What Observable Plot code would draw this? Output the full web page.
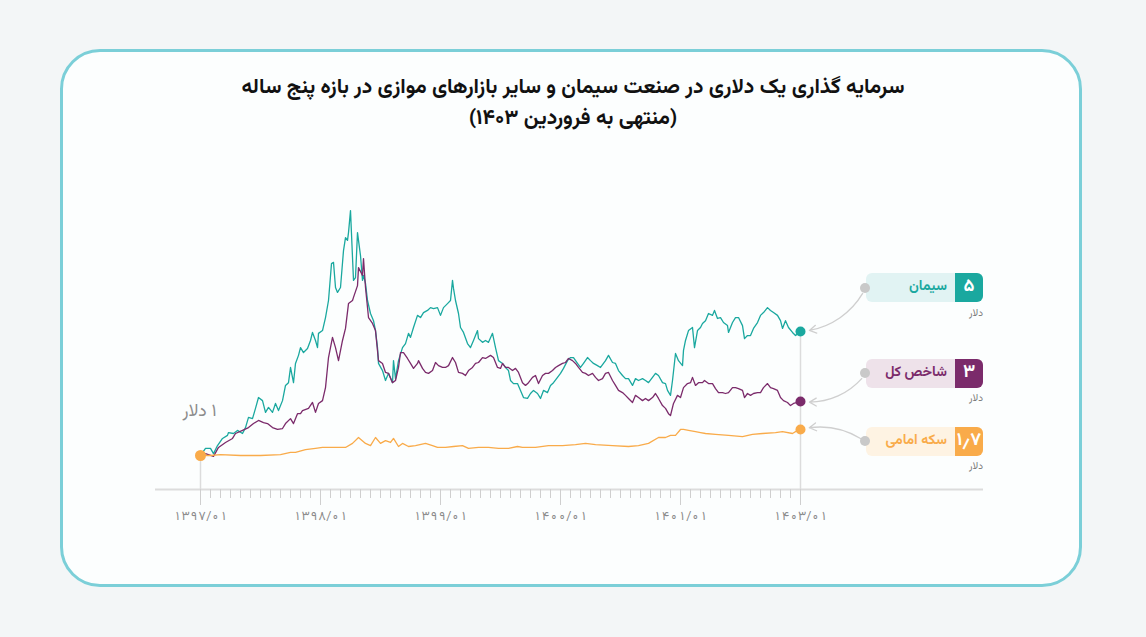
<!DOCTYPE html>
<html><head><meta charset="utf-8">
<script src="https://cdn.jsdelivr.net/npm/d3@7"></script>
<script src="https://cdn.jsdelivr.net/npm/@observablehq/plot@0.6"></script>
<style>
body{margin:0;background:#f3f6f7;width:1146px;height:637px;overflow:hidden;font-family:"Vazirmatn","DejaVu Sans",sans-serif;position:relative}
#card{position:absolute;left:60px;top:49px;width:1016px;height:532px;border:3px solid #7bcfd8;border-radius:40px;background:#fcfefe}
#title{position:absolute;left:0;top:72px;width:1146px;text-align:center;font-weight:bold;font-size:21px;line-height:31px;color:#111;direction:rtl}
#chart{position:absolute;left:0;top:0}
.box{position:absolute;width:117px;height:29px;border-radius:6px;overflow:hidden;direction:rtl}
.num{position:absolute;right:0;top:0;width:28px;height:29px;color:#fff;font-weight:bold;font-size:18px;line-height:29px;text-align:center}
.name{position:absolute;right:36px;top:0;height:29px;line-height:29px;font-size:14px;font-weight:bold;white-space:nowrap}
.unit{position:absolute;font-size:10px;color:#777;direction:rtl;text-align:right;width:40px}
.knob{position:absolute;width:10px;height:10px;border-radius:5px;background:#c9c9c9}
</style></head>
<body>
<div id="card"></div>
<div id="title">سرمایه گذاری یک دلاری در صنعت سیمان و سایر بازارهای موازی در بازه پنج ساله<br>(منتهی به فروردین ۱۴۰۳)</div>
<div id="chart"></div>
<script>
// ---- data (x = months since start, y = value of 1 dollar invested) ----
const seriesNames = ["سیمان", "شاخص کل", "سکه امامی"];
const seriesEndLabels = ["۵", "۳", "۱٫۷"];
const unitLabel = "دلار";
const startLabel = "\u202B۱ دلار\u202C";
const tickMonths = [0, 12, 24, 36, 48, 60];
const tickLabels = ["۱۳۹۷/۰۱", "۱۳۹۸/۰۱", "۱۳۹۹/۰۱", "۱۴۰۰/۰۱", "۱۴۰۱/۰۱", "۱۴۰۳/۰۱"];

const cementT = [0,0.5,1,1.3,1.7,2.2,2.7,2.8,3.3,3.7,4.2,4.5,4.8,5.2,5.5,5.8,6.2,6.5,6.8,7.2,7.5,7.8,8.2,8.5,8.8,9,9.3,9.5,9.8,10,10.3,10.7,11,11.2,11.5,11.7,11.8,12.2,12.5,12.8,13.1,13.3,13.5,13.7,14,14.3,14.5,14.7,14.8,15,15.2,15.3,15.5,15.7,15.8,16,16.2,16.3,16.5,16.7,17,17.3,17.5,17.7,17.8,18.2,18.5,18.8,19.2,19.3,19.5,19.8,20.2,20.5,20.8,21,21.3,21.7,22,22.3,22.7,23,23.3,23.7,24,24.3,24.7,25,25.2,25.3,25.5,25.8,26,26.3,26.7,27,27.3,27.7,27.8,28.2,28.5,28.8,29.2,29.5,29.8,30.2,30.5,30.8,31,31.3,31.7,32,32.3,32.7,33,33.3,33.7,34,34.3,34.7,35,35.3,35.7,36,36.3,36.7,37,37.3,37.7,38,38.3,38.7,39,39.3,39.7,40,40.5,40.8,41.2,41.5,41.8,42.2,42.5,42.8,43.2,43.5,43.8,44.2,44.5,44.8,45.2,45.5,45.8,46.2,46.5,46.7,47,47.2,47.5,47.8,48.2,48.3,48.5,48.8,49.2,49.4,49.7,50,50.2,50.5,50.8,51.2,51.4,51.7,52,52.3,52.7,52.8,53.2,53.5,53.8,54.2,54.4,54.7,55,55.3,55.7,56,56.3,56.7,57,57.3,57.7,58,58.2,58.5,58.8,59.2,59.5,59.8,60];
const cementV = [1.00,1.23,1.23,1.06,1.32,1.55,1.65,1.74,1.71,1.81,1.71,1.90,2.23,2.19,2.52,2.87,2.77,2.39,2.55,2.39,2.68,2.45,2.77,3.26,3.35,3.84,3.35,3.97,4.23,4.48,4.32,4.45,4.71,4.97,4.71,4.48,4.94,5.03,5.45,6.00,7.19,7.23,6.42,6.26,6.42,7.61,8.03,7.94,8.19,8.90,7.39,6.65,6.74,8.19,7.94,7.45,6.65,6.81,6.55,6.00,5.58,5.35,5.03,4.48,3.97,3.74,3.42,3.65,3.35,4.06,3.48,4.06,4.48,4.61,4.94,4.81,5.13,5.52,5.45,5.61,5.68,5.77,5.74,5.77,5.52,5.77,5.90,6.00,6.65,6.39,6.00,5.58,5.13,4.97,4.61,4.48,4.71,5.03,4.77,4.65,4.71,4.65,4.94,4.48,4.06,3.97,3.84,3.74,3.42,3.32,3.32,3.10,2.87,2.84,3.00,3.10,3.00,2.84,3.10,3.03,3.26,3.35,3.52,3.65,3.81,4.06,4.16,4.16,3.97,3.84,3.97,4.16,4.06,3.97,3.90,3.84,4.06,4.23,4.00,3.97,3.74,3.58,3.48,3.48,3.26,3.48,3.42,3.48,3.42,3.35,3.52,3.65,3.58,3.35,3.32,3.10,2.94,3.42,4.29,4.06,3.90,4.39,4.71,5.03,5.13,4.48,5.03,5.13,5.26,5.35,5.58,5.52,5.68,5.42,5.45,5.29,5.19,4.97,5.29,5.45,5.45,5.19,4.77,4.87,4.87,5.10,5.29,5.52,5.61,5.77,5.68,5.61,5.52,5.35,5.10,5.35,5.13,4.97,4.87,4.94,5.00];

const indexT = [0,0.5,1.3,1.8,2.5,3.2,3.5,4.2,4.8,5.3,5.8,6.3,6.7,7.2,7.7,8.2,8.5,9,9.3,9.7,10,10.2,10.8,11.2,11.5,11.8,12.2,12.5,12.8,13.2,13.5,13.8,14.2,14.5,14.8,15.2,15.3,15.7,15.8,16.2,16.3,16.5,16.8,17.2,17.5,17.8,18.2,18.5,18.8,19.2,19.5,19.8,20,20.3,20.7,21,21.3,21.7,21.8,22.2,22.5,22.8,23.2,23.5,23.8,24.2,24.5,24.8,25.2,25.5,25.8,26.2,26.5,26.8,27.2,27.5,27.8,28.2,28.5,29,29.3,29.7,30,30.2,30.5,30.8,31.2,31.5,31.8,32.2,32.5,32.8,33.2,33.5,33.8,34.2,34.5,34.8,35.2,35.5,35.8,36.2,36.5,36.8,37.2,37.5,37.8,38.2,38.5,38.8,39.2,39.5,39.8,40.2,40.5,40.8,41.2,41.5,41.8,42.2,42.5,42.8,43.2,43.5,43.8,44.2,44.5,44.8,45.2,45.5,45.8,46.2,46.5,46.8,47,47.3,47.7,48,48.3,48.7,49,49.2,49.5,49.8,50.2,50.4,50.8,51.2,51.5,51.8,52.2,52.5,52.8,53.2,53.5,53.8,54.2,54.4,54.7,55,55.3,55.7,56,56.3,56.7,57,57.3,57.7,58,58.3,58.7,59,59.3,59.7,60];
const indexV = [1.00,1.06,0.97,1.26,1.42,1.55,1.71,1.81,1.90,2.03,2.13,2.06,2.03,1.90,1.84,1.87,2.03,2.19,2.03,2.35,2.35,2.45,2.52,2.71,2.39,2.68,2.77,3.19,4.16,4.81,4.48,4.06,4.71,5.10,5.90,6.00,6.10,6.48,7.06,6.81,7.35,6.42,5.45,5.26,5.03,4.06,3.97,3.68,3.65,3.35,3.42,3.84,4.32,4.32,4.13,3.97,3.81,3.97,4.06,3.81,3.68,3.65,3.74,4.00,3.90,3.84,3.84,3.90,4.16,4.00,3.68,3.65,3.58,3.74,3.84,3.97,4.00,4.16,4.13,4.23,4.16,3.84,3.81,3.97,3.84,3.84,3.74,3.81,3.68,3.35,3.26,3.35,3.52,3.58,3.32,3.58,3.65,3.65,3.74,3.84,3.90,3.97,4.00,4.13,4.06,3.97,3.84,3.68,3.65,3.58,3.65,3.52,3.42,3.48,3.65,3.68,3.42,3.26,3.10,3.03,2.94,2.84,2.71,2.94,2.87,2.77,2.84,2.77,2.87,3.00,2.84,2.61,2.52,2.35,2.29,2.68,2.94,2.87,3.19,3.32,3.35,3.52,3.26,3.35,3.35,3.42,3.32,3.32,3.16,3.03,3.03,3.00,3.03,3.19,3.19,3.16,3.10,2.87,3.00,2.94,3.00,3.03,3.03,3.19,3.32,3.19,3.16,3.10,2.87,2.77,2.71,2.61,2.68,2.71,2.74];

const goldT = [0,1,2,4,6,8,9,9.5,10.5,11.5,12.2,13.5,14.5,15.2,15.8,16.5,17,17.5,18,18.5,19,19.3,19.8,20.2,20.8,21.5,22.5,23.2,23.7,24.5,25.3,26.2,26.8,27.8,28.8,29.8,30.8,31.7,32.2,33.5,34.8,36.2,37.5,38.5,39.5,41.2,42.8,43.8,44.8,45.8,46.5,47,47.5,48,48.3,48.8,49.5,50,50.5,51.5,52.8,54.2,55.2,56.2,57.5,58.2,59.2,59.7,60];
const goldV = [1.00,1.00,1.03,1.00,1.00,1.03,1.10,1.10,1.19,1.23,1.26,1.26,1.26,1.39,1.58,1.39,1.32,1.58,1.39,1.48,1.42,1.55,1.29,1.39,1.29,1.32,1.39,1.32,1.26,1.26,1.29,1.32,1.23,1.26,1.26,1.23,1.23,1.29,1.26,1.26,1.32,1.32,1.35,1.39,1.35,1.32,1.29,1.32,1.39,1.58,1.58,1.65,1.65,1.84,1.84,1.81,1.77,1.74,1.71,1.68,1.65,1.61,1.68,1.71,1.74,1.77,1.71,1.81,1.84];

// ---- styling ----
const colors = ["#1aa89f", "#7b2b6b", "#f9ab4a"];
const tints = ["#e1f3f3", "#eee2ea", "#fef3e3"];
const labelValues = [6.40, 3.63, 1.44]; // vertical anchor of each end label (in y units)

const tArr = [cementT, indexT, goldT];
const vArr = [cementV, indexV, goldV];
const rows = [];
seriesNames.forEach((name, i) => tArr[i].forEach((t, j) => rows.push({name, t, v: vArr[i][j]})));
const ends = seriesNames.map((name, i) => ({name, t: tArr[i][tArr[i].length - 1], v: vArr[i][vArr[i].length - 1], i}));

const yMin = 1 - 34 / 31;
const labelX = 66.5;
const arrowOpts = (bend) => ({x1: () => labelX, y1: (d) => labelValues[d.i], x2: "t", y2: "v", bend, stroke: "#cfcfcf", strokeWidth: 1.3, insetStart: 6, insetEnd: 9, headLength: 9});

const plot = Plot.plot({
  width: 1146, height: 637,
  marginLeft: 155, marginRight: 163, marginTop: 145, marginBottom: 148,
  x: {domain: [-4.5, 78.3], axis: null, label: null},
  y: {domain: [yMin, 11], axis: null, label: null},
  color: {domain: seriesNames, range: colors},
  style: {background: "transparent", overflow: "visible", fontFamily: "'Vazirmatn','DejaVu Sans',sans-serif"},
  marks: [
    Plot.ruleY([yMin], {stroke: "#dcdcdc", strokeWidth: 2}),
    Plot.axisX({ticks: d3.range(0, 61), tickSize: 9, tickFormat: () => "", stroke: "#cfcfcf", tickPadding: 0, label: null}),
    Plot.axisX({ticks: tickMonths, tickSize: 16, tickPadding: 6, tickFormat: (d) => tickLabels[tickMonths.indexOf(d)], stroke: "#cfcfcf", fill: "#8a8a8a", fontSize: 12.5, label: null}),
    Plot.ruleX([0], {y1: yMin, y2: 1, stroke: "#dcdcdc", strokeWidth: 1.5}),
    Plot.ruleX([ends[0]], {x: "t", y1: yMin, y2: "v", stroke: "#dcdcdc", strokeWidth: 1.5}),
    Plot.line(rows, {x: "t", y: "v", z: "name", stroke: "name", strokeWidth: 1.3, curve: "linear"}),
    Plot.arrow(ends.slice(0, 2), arrowOpts(30)),
    Plot.arrow(ends.slice(2), arrowOpts(-25)),
    Plot.dot(ends, {x: "t", y: "v", fill: "name", r: 5}),
    Plot.dot([{t: 0, v: 1}], {x: "t", y: "v", fill: colors[2], r: 5.5}),
    Plot.text([startLabel], {x: 0, y: 1, dx: 16, dy: -45, textAnchor: "end", fill: "#8c8c8c", fontSize: 17.5})
  ]
});
document.getElementById("chart").appendChild(plot);

// ---- end labels (HTML annotations anchored with the plot's scales) ----
const ys = plot.scale("y"), xs = plot.scale("x");
const bx = xs.apply(labelX);
ends.forEach((d, i) => {
  const cy = ys.apply(labelValues[i]);
  const box = document.createElement("div");
  box.className = "box";
  box.style.left = (bx + 1) + "px"; box.style.top = (cy - 14.5) + "px"; box.style.background = tints[i];
  box.innerHTML = `<div class="num" style="background:${colors[i]}">${seriesEndLabels[i]}</div><div class="name" style="color:${colors[i]}">${seriesNames[i]}</div>`;
  document.body.appendChild(box);
  const knob = document.createElement("div");
  knob.className = "knob"; knob.style.left = (bx - 5) + "px"; knob.style.top = (cy - 5) + "px";
  document.body.appendChild(knob);
  const unit = document.createElement("div");
  unit.className = "unit"; unit.textContent = unitLabel;
  unit.style.left = (bx + 118 - 40) + "px"; unit.style.top = (cy + 18) + "px";
  document.body.appendChild(unit);
});
</script>
</body></html>
